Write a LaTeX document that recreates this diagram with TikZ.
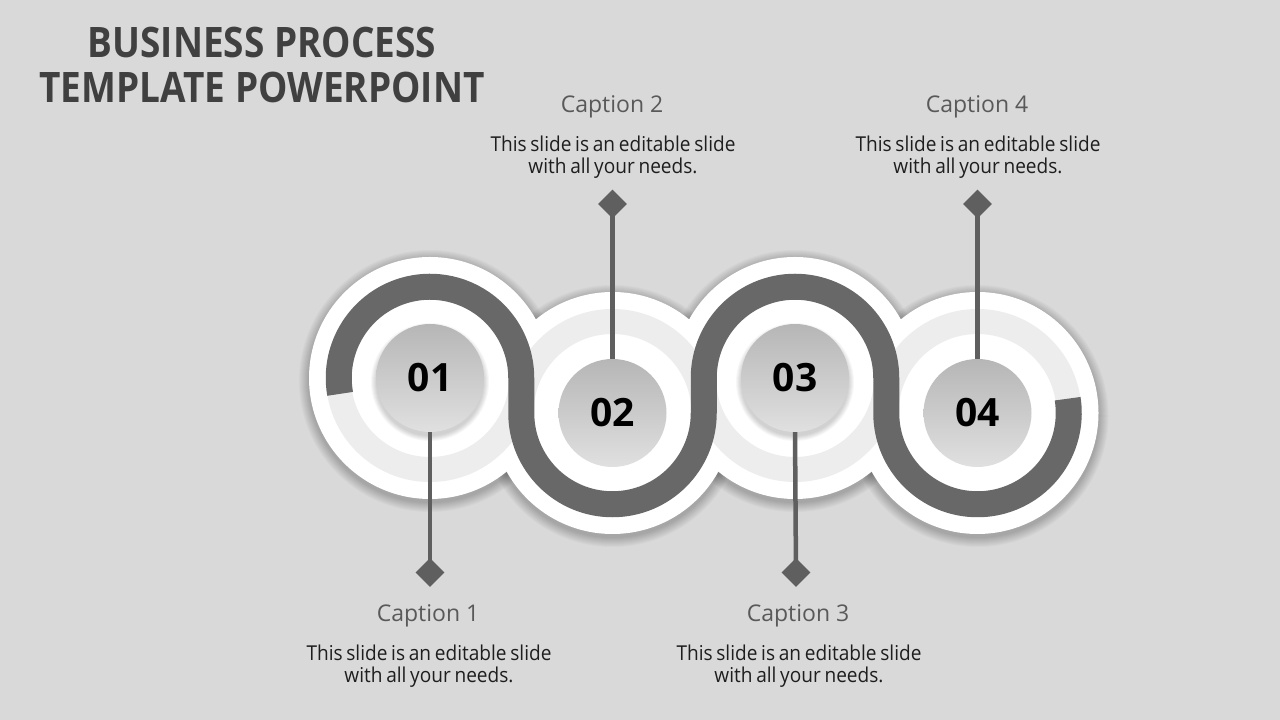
\documentclass[tikz,border=0pt]{standalone}
\usepackage{fontspec}
\setmainfont{Open Sans}
\newfontfamily\headfont{Open Sans}[FakeStretch=0.88]
\newfontfamily\bodyfont{Open Sans}[FakeStretch=0.93, WordSpace=0.75]
\usetikzlibrary{shapes.geometric}

\definecolor{bg}{RGB}{217,217,217}
\definecolor{ringgray}{RGB}{237,237,237}
\definecolor{bandgray}{RGB}{104,104,104}
\definecolor{stemgray}{RGB}{95,95,95}
\definecolor{disctop}{RGB}{182,182,182}
\definecolor{discbot}{RGB}{224,224,224}
\definecolor{headgray}{RGB}{64,64,64}
\definecolor{captgray}{RGB}{89,89,89}
\definecolor{bodyblack}{RGB}{30,30,30}

\tikzstyle{band}=[draw=bandgray, line width=26pt]
\tikzstyle{stem}=[draw=stemgray, line width=4.5pt]
\tikzstyle{knob}=[diamond, fill=stemgray, inner sep=0pt, minimum size=29pt]
\tikzstyle{disc}=[circle, inner sep=0pt, minimum size=108pt, top color=disctop, bottom color=discbot,
	font=\fontsize{39}{39}\selectfont\bfseries, text=black]
\tikzstyle{headline}=[font=\headfont\fontsize{42}{45}\selectfont\bfseries, align=center, text=headgray, inner sep=0pt]
\tikzstyle{capt}=[font=\fontsize{23}{26}\selectfont, text=captgray, inner sep=0pt]
\tikzstyle{body}=[font=\bodyfont\fontsize{20.5}{22.5}\selectfont, align=center, text=bodyblack, inner sep=0pt]

\begin{document}
\begin{tikzpicture}[x=1pt, y=1pt]
	\def\rb{91.25}

	% Background
	\fill[bg] (0,0) rectangle (1280,720);
	\useasboundingbox (0,0) rectangle (1280,720);

	% Title
	\node[headline] (title) at (262,655.5) {BUSINESS PROCESS\\TEMPLATE POWERPOINT};

	% Centres
	\coordinate (p1) at (430,342);
	\coordinate (p2) at (612.5,307);
	\coordinate (p3) at (795,342);
	\coordinate (p4) at (977.5,307);

	% Soft shadow, white rings
	\foreach \p in {p1,p2,p3,p4} {
		\foreach \i in {1,...,10} {
			\fill[black, opacity=0.025] ([yshift=-3pt]\p) circle ({121+\i});
		}
	}
	\foreach \p in {p1,p2,p3,p4} {
		\fill[white] (\p) circle (121);
	}
	\foreach \p in {p1,p2,p3,p4} {
		\fill[ringgray, even odd rule] (\p) circle (104) circle (79);
	}

	% Band
	\draw[band] ([shift={(190:\rb)}]p1) arc (190:0:\rb) -- ([shift={(180:\rb)}]p2)
		arc (180:360:\rb) -- ([shift={(180:\rb)}]p3)
		arc (180:0:\rb) -- ([shift={(180:\rb)}]p4)
		arc (180:369:\rb);

	% Discs
	\foreach \p in {p1,p3} {
		\foreach \i in {1,...,6} {
			\fill[black, opacity=0.03] ([yshift=-4pt]\p) circle ({53+\i});
		}
	}
	\node[disc] (c1) at (p1) {01};
	\node[disc] (c2) at (p2) {02};
	\node[disc] (c3) at (p3) {03};
	\node[disc] (c4) at (p4) {04};

	% Stems
	\node[knob] (d1) at (430,147.5) {};
	\node[knob] (d2) at (612.5,516) {};
	\node[knob] (d3) at (796,147.5) {};
	\node[knob] (d4) at (977.5,516) {};
	\draw[stem] (c1.south) -- (d1.center);
	\draw[stem] (d2.center) -- (c2.north);
	\draw[stem] (c3.south) -- (d3.center);
	\draw[stem] (d4.center) -- (c4.north);

	% Captions
	\node[capt] (t1) at (428,104) {Caption 1};
	\node[capt] (t2) at (612,613) {Caption 2};
	\node[capt] (t3) at (798,104) {Caption 3};
	\node[capt] (t4) at (977,613) {Caption 4};
	\node[body] (b1) at (429,54) {This slide is an editable slide\\with all your needs.};
	\node[body] (b2) at (613,563) {This slide is an editable slide\\with all your needs.};
	\node[body] (b3) at (799,54) {This slide is an editable slide\\with all your needs.};
	\node[body] (b4) at (978,563) {This slide is an editable slide\\with all your needs.};

\end{tikzpicture}
\end{document}
